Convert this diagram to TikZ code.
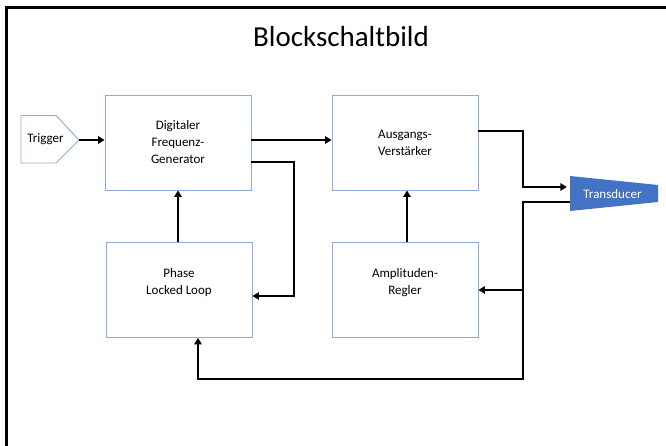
\documentclass[tikz,border=0pt]{standalone}
\usepackage{fontspec}
\setmainfont{Carlito}
\usetikzlibrary{arrows.meta,calc}
\definecolor{boxline}{HTML}{8FAADC}
\definecolor{tdblue}{HTML}{4472C4}
\begin{document}
\begin{tikzpicture}[x=1pt,y=-1pt,
  block/.style={draw=boxline,line width=0.9pt,minimum width=146pt,minimum height=95pt,
    align=center,font=\fontsize{13}{17}\selectfont,inner sep=0pt},
  arr/.style={line width=2pt,-{Triangle[length=6.5pt,width=7.5pt]}}]
\useasboundingbox (0,0) rectangle (666,446);
\fill[white] (0,0) rectangle (666,446);
% frame
\draw[line width=2.4pt] (6.5,450) -- (6.5,7.5) -- (670,7.5);
% title
\node[anchor=base,font=\fontsize{29}{34}\selectfont,inner sep=0pt] (title) at (341,46.7) {Blockschaltbild};
% blocks
\node[block] (dfg) at (178,142.5) {Digitaler\\Frequenz-\\Generator};
\node[block] (av) at (405,142.5) {Ausgangs-\\Verstärker};
\node[block] (pll) at (179,290) {Phase\\Locked Loop\\\mbox{}};
\node[block] (ar) at (405,290) {Amplituden-\\Regler\\\mbox{}};
% trigger
\draw[boxline,line width=0.9pt,fill=white] (21,115.5) -- (56,115.5) -- (79,140) -- (56,163) -- (21,163) -- cycle;
\node[inner sep=0pt,minimum width=58pt,minimum height=47pt] (trig) at (50,140) {};
\node[font=\fontsize{13}{16}\selectfont,inner sep=0pt] (trigtxt) at (45.5,139.5) {Trigger};
% transducer
\fill[tdblue] (570,176) -- (658,185) -- (658,202) -- (570,211) -- cycle;
\node[inner sep=0pt,minimum width=88pt,minimum height=36pt] (tr) at (614,194) {};
\node[font=\fontsize{13}{16}\selectfont,text=white,inner sep=0pt] (trtxt) at (612.5,194) {Transducer};
% connectors
\draw[arr] (trig.east) -- (trig.east -| dfg.west);
\draw[arr] ($(dfg.east)+(0,-2.5)$) -- ($(av.west)+(0,-2.5)$);
\draw[arr] ($(dfg.east)+(0,19.5)$) -- ++(43,0) |- ($(pll.east)+(0,6)$);
\draw[arr] ($(av.east)+(0,-11.5)$) -- ++(45,0) |- ($(tr.west)+(-3,-7)$);
\coordinate (fbj) at (523,379);
\draw[arr] ($(tr.west)+(0,8)$) -| (fbj) -| ($(pll.south)+(19,0)$);
\draw[arr] (ar.east -| fbj) -- (ar.east);
\draw[arr] (pll.north -| dfg.south) -- (dfg.south);
\draw[arr] ($(ar.north)+(2,0)$) -- ($(av.south)+(2,0)$);
\end{tikzpicture}
\end{document}
